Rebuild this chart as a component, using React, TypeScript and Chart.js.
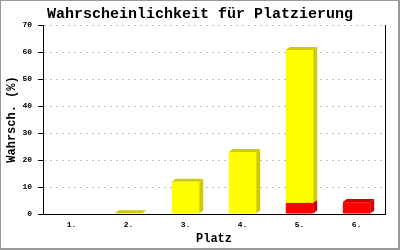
import React, { useEffect, useRef } from "react";
import { Chart, registerables } from "chart.js";

Chart.register(...registerables);

const categories = ["1.", "2.", "3.", "4.", "5.", "6."];
const redValues = [0, 0, 0, 0, 4.1, 4.4];
const yellowValues = [0, 0.3, 11.9, 23, 56.6, 0];
const yMin = 0;
const yMax = 70;
const yStep = 10;

const FONT = "'Liberation Mono', 'DejaVu Sans Mono', monospace";

const bar3d = {
  id: "bar3d",
  beforeDatasetsDraw(chart: any) {
    const ctx = chart.ctx;
    const dx = 4;
    const dy = 3;
    chart.data.datasets.forEach((ds: any, i: number) => {
      const meta = chart.getDatasetMeta(i);
      meta.data.forEach((el: any, j: number) => {
        const v = ds.data[j];
        if (!v) return;
        const { x, y, base, width } = el.getProps(["x", "y", "base", "width"], true);
        const l = x - width / 2;
        const r = x + width / 2;
        ctx.save();
        ctx.fillStyle = ds.sideColor;
        ctx.beginPath();
        ctx.moveTo(r, y);
        ctx.lineTo(r + dx, y - dy);
        ctx.lineTo(r + dx, base - dy);
        ctx.lineTo(r, base);
        ctx.closePath();
        ctx.fill();
        ctx.beginPath();
        ctx.moveTo(l, y);
        ctx.lineTo(l + dx, y - dy);
        ctx.lineTo(r + dx, y - dy);
        ctx.lineTo(r, y);
        ctx.closePath();
        ctx.fill();
        ctx.restore();
      });
    });
  },
  afterDraw(chart: any) {
    const ctx = chart.ctx;
    const a = chart.chartArea;
    ctx.save();
    ctx.fillStyle = "#000";
    ctx.fillRect(Math.round(a.right), Math.round(a.top), 1, Math.round(a.bottom - a.top) + 1);
    ctx.fillStyle = "#999";
    ctx.fillRect(0, 0, 400, 1);
    ctx.fillRect(0, 0, 1, 250);
    ctx.fillRect(398, 0, 2, 250);
    ctx.fillRect(0, 248, 400, 2);
    ctx.restore();
  },
};

export default function App() {
  const ref = useRef<HTMLCanvasElement>(null);

  useEffect(() => {
    const chart = new Chart(ref.current as HTMLCanvasElement, {
      type: "bar",
      data: {
        labels: categories,
        datasets: [
          {
            label: "rot",
            data: redValues,
            backgroundColor: "#ff0000",
            sideColor: "#cc0000",
            borderWidth: 0,
          } as any,
          {
            label: "gelb",
            data: yellowValues,
            backgroundColor: "#ffff00",
            sideColor: "#cccc00",
            borderWidth: 0,
          } as any,
        ],
      },
      options: {
        responsive: false,
        animation: false,
        devicePixelRatio: 1,
        layout: { padding: 0 },
        datasets: { bar: { categoryPercentage: 1, barPercentage: 0.48 } },
        plugins: {
          legend: { display: false },
          tooltip: { enabled: false },
          title: {
            display: true,
            text: "Wahrscheinlichkeit für Platzierung",
            color: "#000",
            font: { family: FONT, size: 15, weight: "bold", lineHeight: 1.2 },
            padding: { top: 5, bottom: 2 },
          },
        },
        scales: {
          x: {
            stacked: true,
            grid: { display: false, drawTicks: false },
            border: { display: true, color: "#000", width: 1 },
            ticks: { color: "#000", font: { family: FONT, size: 8, weight: "bold" }, padding: 6, maxRotation: 0 },
            title: {
              display: true,
              text: "Platz",
              color: "#000",
              font: { family: FONT, size: 12, weight: "bold", lineHeight: 1.2 },
              padding: { top: 0, bottom: 4 },
            },
            afterFit(s: any) {
              s.height = 36;
            },
          },
          y: {
            stacked: true,
            min: yMin,
            max: yMax,
            ticks: { stepSize: yStep, color: "#000", font: { family: FONT, size: 8, weight: "bold" }, padding: 6 },
            grid: { color: "#c0c0c0", tickColor: "#000", tickLength: 5, drawTicks: true },
            border: { display: true, color: "#000", width: 1, dash: [2, 4] },
            title: {
              display: true,
              text: "Wahrsch. (%)",
              color: "#000",
              font: { family: FONT, size: 12, weight: "bold", lineHeight: 1.2 },
              padding: { top: 5, bottom: 0 },
            },
            afterFit(s: any) {
              s.width = 43;
            },
          },
          yRight: {
            position: "right",
            display: true,
            grid: { display: false, drawTicks: false },
            border: { display: false },
            ticks: { display: false },
            afterFit(s: any) {
              s.width = 15;
            },
          },
        },
      },
      plugins: [bar3d],
    } as any);
    return () => chart.destroy();
  }, []);

  return (
    <div style={{ position: "absolute", left: 0, top: 0, width: 400, height: 250, background: "#fff" }}>
      <canvas ref={ref} width={400} height={250} />
    </div>
  );
}
